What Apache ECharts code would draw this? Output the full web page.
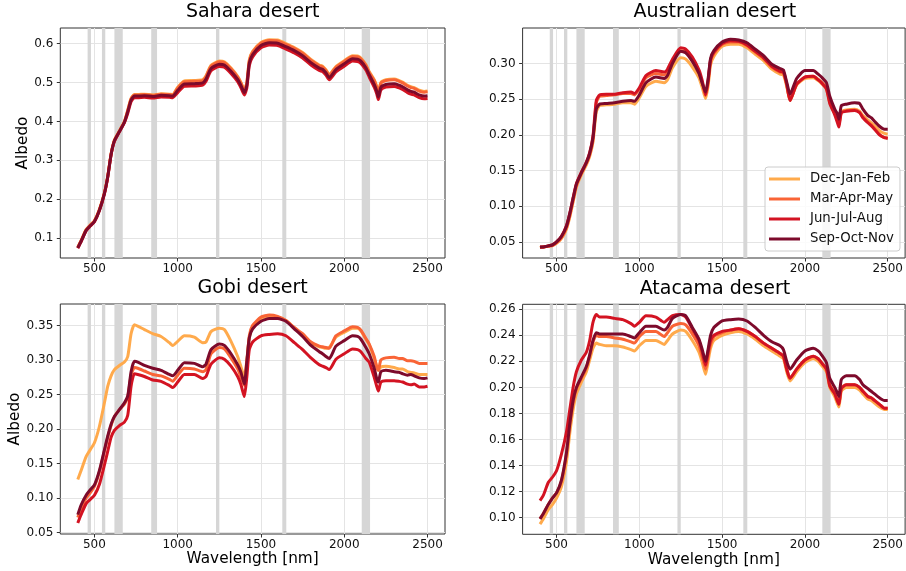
<!DOCTYPE html>
<html><head><meta charset="utf-8">
<script src="https://cdn.jsdelivr.net/npm/echarts@6/dist/echarts.min.js"></script>
<style>html,body{margin:0;padding:0;background:#fff}#c{width:906px;height:571px}</style>
</head><body><div id="c"></div>
<script>
const wavelengths = [400,420,450,475,500,530,560,580,600,620,650,680,700,720,740,760,800,850,900,950,970,1000,1040,1100,1150,1170,1200,1250,1280,1320,1360,1380,1400,1415,1430,1450,1500,1550,1600,1650,1700,1750,1800,1850,1870,1890,1910,1950,2000,2050,2080,2100,2130,2150,2180,2195,2205,2220,2250,2300,2330,2350,2380,2400,2420,2450,2480,2500];
const seasons = ['Dec-Jan-Feb','Mar-Apr-May','Jun-Jul-Aug','Sep-Oct-Nov'];
const xTicks = [500,1000,1500,2000,2500];
const modisBands = [[459,479],[545,565],[620,670],[841,876],[1230,1250],[1628,1652],[2105,2155]];

const sahara_DJF = [.077,.094,.122,.134,.145,.174,.217,.260,.317,.352,.376,.400,.429,.459,.469,.469,.470,.468,.471,.470,.469,.488,.504,.505,.507,.517,.544,.555,.553,.537,.516,.500,.482,.500,.558,.580,.603,.610,.609,.600,.590,.577,.559,.545,.542,.533,.521,.541,.556,.569,.568,.563,.546,.528,.507,.490,.475,.500,.507,.509,.505,.501,.493,.489,.487,.480,.477,.478];
const sahara_MAM = [.076,.093,.121,.133,.144,.173,.216,.259,.316,.351,.375,.399,.428,.458,.468,.468,.469,.467,.470,.469,.468,.486,.502,.503,.505,.515,.542,.553,.551,.535,.514,.498,.480,.498,.556,.578,.601,.608,.607,.598,.588,.575,.557,.543,.540,.531,.519,.539,.554,.567,.566,.561,.544,.526,.505,.488,.473,.498,.505,.507,.503,.499,.491,.487,.485,.478,.475,.476];
const sahara_JJA = [.074,.091,.119,.131,.142,.171,.214,.257,.314,.349,.373,.397,.421,.451,.461,.461,.462,.460,.463,.462,.461,.474,.490,.491,.493,.503,.530,.541,.539,.523,.502,.486,.468,.486,.544,.566,.589,.596,.595,.586,.576,.563,.545,.531,.528,.519,.507,.527,.542,.555,.554,.549,.532,.514,.488,.471,.456,.481,.488,.490,.486,.482,.474,.470,.468,.461,.458,.459];
const sahara_SON = [.075,.092,.120,.132,.143,.172,.215,.258,.315,.350,.374,.398,.425,.455,.465,.465,.466,.464,.467,.466,.465,.480,.496,.497,.499,.509,.536,.547,.545,.529,.508,.492,.474,.492,.550,.572,.595,.602,.601,.592,.582,.569,.551,.537,.534,.525,.513,.533,.548,.561,.560,.555,.538,.520,.495,.478,.463,.488,.495,.497,.493,.489,.481,.477,.475,.468,.465,.466];

const australia_DJF = [.042,.043,.044,.045,.048,.055,.068,.085,.106,.127,.144,.158,.170,.190,.232,.241,.242,.243,.245,.245,.243,.252,.268,.275,.273,.277,.294,.308,.306,.295,.280,.266,.251,.268,.298,.310,.324,.327,.327,.322,.313,.304,.292,.285,.284,.268,.248,.270,.279,.280,.276,.272,.264,.245,.230,.222,.216,.233,.235,.236,.233,.227,.221,.217,.213,.206,.202,.201];
const australia_MAM = [.042,.043,.044,.045,.049,.056,.070,.087,.108,.129,.146,.160,.172,.193,.245,.254,.255,.256,.258,.258,.256,.264,.280,.286,.284,.288,.302,.318,.317,.305,.288,.273,.255,.273,.303,.314,.327,.330,.330,.325,.316,.307,.295,.288,.287,.270,.249,.271,.281,.282,.278,.274,.266,.247,.231,.222,.214,.232,.234,.235,.232,.225,.218,.214,.209,.201,.196,.196];
const australia_JJA = [.043,.043,.0445,.046,.050,.058,.073,.090,.112,.132,.148,.162,.175,.198,.248,.256,.257,.257,.259,.260,.258,.266,.283,.290,.288,.292,.306,.322,.320,.309,.291,.276,.256,.275,.305,.316,.328,.332,.331,.326,.317,.308,.296,.289,.288,.271,.248,.271,.281,.282,.277,.273,.264,.244,.228,.218,.211,.231,.233,.234,.231,.224,.217,.213,.208,.200,.196,.195];
const australia_SON = [.043,.043,.0445,.046,.050,.058,.072,.090,.111,.131,.147,.161,.174,.196,.236,.243,.244,.245,.247,.248,.247,.256,.273,.281,.279,.283,.300,.317,.315,.303,.286,.272,.260,.278,.307,.318,.330,.334,.333,.329,.320,.311,.299,.293,.291,.274,.257,.279,.290,.290,.285,.281,.273,.254,.236,.230,.222,.241,.243,.245,.244,.236,.227,.224,.219,.212,.208,.208];

const gobi_DJF = [.127,.140,.160,.170,.180,.204,.238,.262,.277,.286,.292,.297,.305,.338,.351,.349,.344,.338,.334,.325,.321,.327,.335,.333,.325,.326,.341,.346,.344,.327,.305,.290,.275,.300,.332,.348,.360,.364,.362,.357,.346,.336,.325,.319,.318,.317,.318,.333,.340,.346,.346,.342,.330,.322,.302,.290,.285,.290,.291,.289,.287,.287,.283,.282,.281,.279,.279,.279];
const gobi_MAM = [.072,.085,.100,.108,.117,.138,.168,.188,.205,.218,.228,.236,.246,.278,.289,.288,.284,.279,.277,.272,.269,.278,.288,.287,.283,.286,.309,.318,.316,.303,.287,.275,.263,.295,.335,.350,.362,.365,.363,.357,.347,.338,.326,.320,.319,.318,.317,.335,.342,.348,.347,.343,.331,.323,.305,.290,.285,.300,.303,.304,.302,.302,.299,.299,.298,.295,.295,.295];
const gobi_JJA = [.064,.076,.092,.098,.104,.120,.148,.168,.188,.198,.205,.210,.220,.262,.280,.279,.276,.271,.269,.263,.260,.268,.279,.279,.273,.276,.294,.303,.301,.291,.276,.264,.247,.275,.315,.326,.335,.337,.338,.335,.325,.315,.303,.293,.291,.289,.286,.301,.309,.316,.315,.312,.302,.297,.275,.262,.255,.268,.270,.270,.269,.268,.265,.264,.265,.261,.261,.262];
const gobi_SON = [.076,.090,.104,.112,.119,.140,.170,.190,.207,.218,.228,.238,.248,.283,.298,.297,.292,.288,.285,.279,.277,.285,.296,.295,.290,.294,.315,.323,.321,.309,.293,.282,.265,.298,.332,.345,.356,.360,.360,.356,.345,.334,.321,.312,.309,.305,.302,.320,.328,.335,.334,.330,.318,.309,.288,.273,.268,.283,.285,.283,.282,.280,.278,.279,.277,.274,.273,.274];

const atacama_DJF = [.095,.099,.106,.110,.115,.124,.143,.165,.183,.195,.204,.212,.221,.230,.234,.233,.232,.232,.231,.229,.228,.232,.236,.236,.233,.236,.241,.244,.243,.236,.227,.219,.210,.220,.230,.236,.240,.242,.243,.241,.237,.232,.228,.224,.222,.212,.205,.212,.219,.222,.220,.217,.212,.200,.193,.188,.185,.197,.200,.200,.198,.195,.191,.190,.188,.185,.183,.183];
const atacama_MAM = [.099,.103,.110,.115,.119,.128,.149,.171,.188,.199,.207,.215,.224,.235,.240,.239,.239,.238,.237,.235,.234,.239,.243,.243,.239,.242,.247,.249,.248,.241,.232,.223,.214,.224,.233,.239,.242,.244,.245,.243,.239,.234,.230,.226,.224,.214,.207,.214,.221,.224,.222,.219,.214,.202,.196,.190,.187,.200,.202,.202,.200,.197,.193,.192,.190,.187,.184,.184];
const atacama_JJA = [.113,.117,.127,.131,.136,.149,.166,.183,.200,.212,.221,.227,.236,.250,.256,.254,.254,.253,.252,.249,.247,.250,.255,.254,.250,.252,.255,.256,.254,.245,.236,.227,.217,.227,.236,.240,.243,.244,.245,.243,.239,.234,.230,.226,.224,.214,.207,.214,.221,.224,.222,.219,.214,.201,.195,.190,.187,.199,.202,.202,.200,.197,.193,.192,.190,.187,.184,.184];
const atacama_SON = [.099,.103,.110,.115,.119,.129,.150,.172,.190,.200,.208,.216,.225,.236,.242,.241,.241,.241,.241,.239,.238,.242,.247,.247,.244,.246,.253,.256,.255,.246,.237,.229,.220,.229,.240,.246,.251,.252,.2525,.251,.246,.240,.235,.232,.229,.220,.214,.221,.228,.230,.228,.225,.219,.207,.200,.196,.193,.206,.209,.209,.206,.202,.199,.197,.195,.192,.190,.190];

const saharaTicks = [0.1,0.2,0.3,0.4,0.5,0.6];
const australiaTicks = [0.05,0.10,0.15,0.20,0.25,0.30];
const gobiTicks = [0.05,0.10,0.15,0.20,0.25,0.30,0.35];
const atacamaTicks = [0.10,0.12,0.14,0.16,0.18,0.20,0.22,0.24,0.26];

const FONT = 'DejaVu Sans';
const colors = ['#ffaa4c','#f96436','#d31322','#7d0a2b'];
const panels = [
  {title:'Sahara desert', data:[sahara_DJF,sahara_MAM,sahara_JJA,sahara_SON], yMin:0.049, yMax:0.640, ticks:saharaTicks, dec:1, left:60.3, top:28, xName:false, yName:true},
  {title:'Australian desert', data:[australia_DJF,australia_MAM,australia_JJA,australia_SON], yMin:0.0275, yMax:0.3497, ticks:australiaTicks, dec:2, left:522.6, top:28, xName:false, yName:false},
  {title:'Gobi desert', data:[gobi_DJF,gobi_MAM,gobi_JJA,gobi_SON], yMin:0.048, yMax:0.381, ticks:gobiTicks, dec:2, left:60.3, top:304, xName:true, yName:true},
  {title:'Atacama desert', data:[atacama_DJF,atacama_MAM,atacama_JJA,atacama_SON], yMin:0.0872, yMax:0.2638, ticks:atacamaTicks, dec:2, left:522.6, top:304.3, xName:true, yName:false}
];
const W = 384.7, H = 230;
const grids=[], xAxes=[], yAxes=[], series=[], titles=[];
panels.forEach((p,i)=>{
  grids.push({left:p.left, top:p.top, width:W, height:H, show:true, borderColor:'#333', borderWidth:1, backgroundColor:'#fff'});
  titles.push({text:p.title, left:p.left + W/2, top:p.top - 25, textAlign:'center', padding:0,
    textStyle:{fontFamily:FONT, fontSize:19, fontWeight:'normal', color:'#000'}});
  xAxes.push({type:'value', gridIndex:i, min:295, max:2605,
    name:p.xName?'Wavelength [nm]':'', nameLocation:'middle', nameGap:18,
    nameTextStyle:{fontFamily:FONT, fontSize:15.3, color:'#000'},
    axisLine:{show:false},
    axisTick:{show:true, length:3.5, lineStyle:{color:'#333'}, customValues:xTicks},
    axisLabel:{customValues:xTicks, fontFamily:FONT, fontSize:12, color:'#111', margin:5,
      formatter:(v)=>String(Math.round(v))},
    splitLine:{show:true, lineStyle:{color:'#e4e4e4', width:1}}});
  yAxes.push({type:'value', gridIndex:i, min:p.yMin, max:p.yMax,
    name:p.yName?'Albedo':'', nameLocation:'middle', nameGap:28, nameRotate:90,
    nameTextStyle:{fontFamily:FONT, fontSize:15.3, color:'#000'},
    axisLine:{show:false},
    axisTick:{show:true, length:3.5, lineStyle:{color:'#333'}, customValues:p.ticks},
    axisLabel:{customValues:p.ticks, fontFamily:FONT, fontSize:12, color:'#111', margin:7,
      formatter:(v)=>Number(v).toFixed(p.dec)},
    splitLine:{show:true, lineStyle:{color:'#e4e4e4', width:1}}});
  series.push({type:'line', name:'bands', xAxisIndex:i, yAxisIndex:i, data:[], z:1, silent:true,
    markArea:{silent:true, itemStyle:{color:'#d6d6d6', opacity:1}, data:modisBands.map(b=>[{xAxis:b[0]},{xAxis:b[1]}])}});
  p.data.forEach((arr,k)=>{
    series.push({type:'line', name:seasons[k], xAxisIndex:i, yAxisIndex:i, z:3+k,
      data:wavelengths.map((w,j)=>[w,arr[j]]),
      symbol:'none', showSymbol:false, smooth:0.2,
      lineStyle:{width:3, color:colors[k]}, itemStyle:{color:colors[k]}});
  });
});
const chart = echarts.init(document.getElementById('c'), null, {renderer:'canvas'});
chart.setOption({
  animation:false, backgroundColor:'#fff',
  title:titles, grid:grids, xAxis:xAxes, yAxis:yAxes, series:series,
  legend:{data:seasons, orient:'vertical', left:765, top:167, padding:[5,6,5,4],
    itemWidth:31, itemHeight:3, itemGap:6, icon:'rect', z:10,
    backgroundColor:'rgba(255,255,255,0.85)', borderColor:'#cccccc', borderWidth:1, borderRadius:3,
    textStyle:{fontFamily:FONT, fontSize:13.3, color:'#111', lineHeight:14, padding:[0,0,0,5]}}
});
</script></body></html>
